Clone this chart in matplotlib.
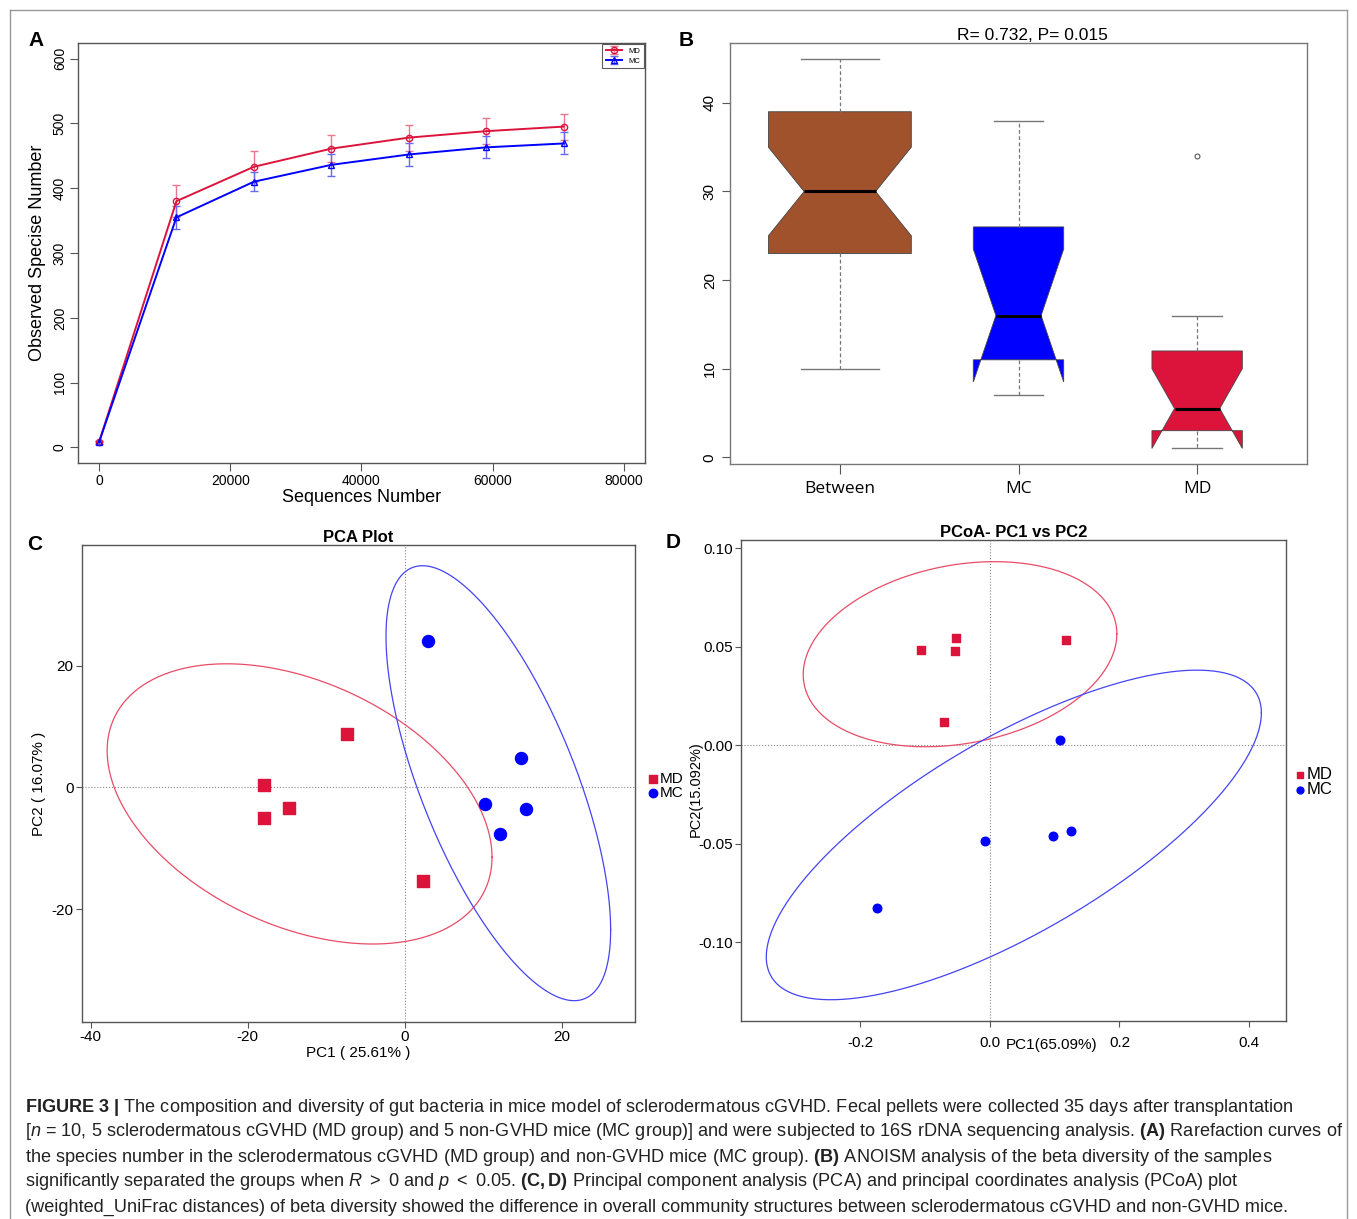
import numpy as np
import matplotlib
matplotlib.use('Agg')
import matplotlib.pyplot as plt
import matplotlib.font_manager as fm
from matplotlib.lines import Line2D

W, H = 1357, 1219


def pick(*names):
    for n in names:
        try:
            fm.findfont(fm.FontProperties(family=n), fallback_to_default=False)
            return n
        except ValueError:
            pass
    return 'DejaVu Sans'


SANS = pick('Liberation Sans', 'Arial', 'DejaVu Sans')
NARROW = pick('Liberation Sans Narrow', 'Arial Narrow', 'Liberation Sans')
CAT = pick('Open Sans', 'Liberation Sans')

plt.rcParams['font.family'] = [SANS, 'DejaVu Sans']
plt.rcParams['axes.unicode_minus'] = False
plt.rcParams['mathtext.fontset'] = 'custom'
plt.rcParams['mathtext.rm'] = NARROW
plt.rcParams['mathtext.it'] = NARROW + ':italic'
plt.rcParams['mathtext.bf'] = NARROW + ':bold'

# ---- A: rarefaction curves
seq_num = [0, 11800, 23600, 35400, 47200, 59000, 70800]
md_obs = [8, 380, 433, 461, 478, 488, 495]
md_err = [2, 25, 24, 21, 20, 20, 20]
mc_obs = [8, 355, 410, 436, 452, 463, 469]
mc_err = [2, 18, 15, 17, 17, 17, 17]

# ---- B: ANOSIM rank distances
groups = ['Between', 'MC', 'MD']
group_n = [25, 10, 10]
q1 = [23, 11, 3]
med = [30, 16, 5.5]
q3 = [39, 26, 12]
whislo = [10, 7, 1]
whishi = [45, 38, 16]
ci_lo = [25, 8.5, 1]
ci_hi = [35, 23.5, 10]
outliers = [[], [], [34]]
box_colors = ['#A0522D', '#0000FF', '#DC143C']

# ---- C: PCA
pca_md_x = [-7.4, -17.9, -14.8, -17.9, 2.3]
pca_md_y = [8.7, 0.4, -3.3, -5.0, -15.3]
pca_mc_x = [3.0, 14.8, 10.2, 15.4, 12.1]
pca_mc_y = [24.1, 4.8, -2.7, -3.6, -7.6]
# ellipse: centre x, centre y, half width, half height, correlation
pca_ell_md = [-13.4, -2.7, 24.5, 23.0, -0.38]
pca_ell_mc = [11.9, 0.7, 14.3, 35.7, -0.675]

# ---- D: PCoA
pcoa_md_x = [-0.106, -0.052, -0.054, 0.117, -0.071]
pcoa_md_y = [0.0483, 0.0547, 0.0478, 0.0533, 0.0121]
pcoa_mc_x = [0.108, -0.0075, 0.0976, 0.126, -0.174]
pcoa_mc_y = [0.0029, -0.0485, -0.0458, -0.0433, -0.0827]
pcoa_ell_md = [-0.046, 0.0463, 0.242, 0.047, 0.22]
pcoa_ell_mc = [0.037, -0.0455, 0.382, 0.0837, 0.74]

RED = '#DC143C'
BLUE = '#0000FF'


def px_box(l, t, r, b):
    return [l / W, 1 - b / H, (r - l) / W, (b - t) / H]


def fxy(x, y):
    return x / W, 1 - y / H


def ellipse_xy(p, n=300):
    cx, cy, hx, hy, rho = p
    t = np.linspace(0, 2 * np.pi, n)
    x = cx + hx * np.cos(t)
    y = cy + hy * (rho * np.cos(t) + np.sqrt(1 - rho ** 2) * np.sin(t))
    return x, y


def grey_spines(ax, c='#555555'):
    for s in ax.spines.values():
        s.set_color(c)
        s.set_linewidth(1.0)


fig = plt.figure(figsize=(W / 100, H / 100), dpi=100)

# ================= A =================
axA = fig.add_axes(px_box(78, 43, 645, 463))
eb_kw = dict(capsize=3, elinewidth=1.0, capthick=1.0, lw=1.4, markersize=4.5,
             markerfacecolor='none', markeredgewidth=1.0)
axA.errorbar(seq_num, md_obs, yerr=md_err, color=RED, marker='o',
             ecolor='#E8788E', label='MD', **eb_kw)
axA.errorbar(seq_num, mc_obs, yerr=mc_err, color=BLUE, marker='^',
             ecolor='#6A6AF0', label='MC', **eb_kw)
axA.set_xlim(-3200, 83200)
axA.set_ylim(-24, 624)
axA.set_xticks([0, 20000, 40000, 60000, 80000])
axA.set_yticks(range(0, 601, 100))
axA.tick_params(axis='both', labelsize=10, length=6, color='#555555', pad=2)
axA.tick_params(axis='y', labelrotation=90)
for lab in axA.get_yticklabels():
    lab.set_va('center')
axA.set_xlabel('Sequences Number', fontsize=13, labelpad=1)
axA.set_ylabel('Observed Specise Number', fontsize=13, labelpad=5)
grey_spines(axA)
legA = axA.legend(loc='upper right', fontsize=5.5, frameon=True, fancybox=False,
                  borderaxespad=0.1, handlelength=2.2, borderpad=0.5,
                  labelspacing=0.3)
legA.get_frame().set_edgecolor('#333333')
legA.get_frame().set_linewidth(0.8)

# ================= B =================
axB = fig.add_axes(px_box(730, 43, 1307, 464))
stats = []
for i, g in enumerate(groups):
    stats.append(dict(label=g, med=med[i], q1=q1[i], q3=q3[i],
                      whislo=whislo[i], whishi=whishi[i],
                      cilo=ci_lo[i], cihi=ci_hi[i], fliers=outliers[i]))
widths = [0.8 * np.sqrt(n / max(group_n)) for n in group_n]
bp = axB.bxp(stats, positions=[1, 2, 3], widths=widths,
             capwidths=[w * 0.55 for w in widths], shownotches=True,
             patch_artist=True,
             boxprops=dict(edgecolor='#444444', linewidth=0.6),
             whiskerprops=dict(color='#777777', linestyle=(0, (3, 2)), linewidth=0.9),
             capprops=dict(color='#777777', linewidth=1.0),
             medianprops=dict(color='black', linewidth=2.2),
             flierprops=dict(marker='o', markersize=3.5, markerfacecolor='none',
                             markeredgecolor='#555555', markeredgewidth=0.8))
for patch, c in zip(bp['boxes'], box_colors):
    patch.set_facecolor(c)
axB.set_xlim(0.385, 3.615)
axB.set_ylim(-0.76, 46.76)
axB.set_yticks([0, 10, 20, 30, 40])
axB.set_xticks([1, 2, 3])
axB.set_xticklabels(groups, fontsize=12.5, family=CAT)
axB.tick_params(axis='x', length=7, color='#555555', pad=5)
axB.tick_params(axis='y', labelsize=11, length=6, color='#555555', labelrotation=90)
for lab in axB.get_yticklabels():
    lab.set_va('center')
axB.set_title('R= 0.732, P= 0.015', fontsize=12.5, family=NARROW, pad=2, x=0.525)
grey_spines(axB, '#777777')

# ================= C =================
axC = fig.add_axes(px_box(82, 545, 635, 1022))
axC.axhline(0, color='#888888', lw=0.8, ls=':', zorder=0)
axC.axvline(0, color='#888888', lw=0.8, ls=':', zorder=0)
x, y = ellipse_xy(pca_ell_md)
axC.plot(x, y, color='#E84C66', lw=0.9)
x, y = ellipse_xy(pca_ell_mc)
axC.plot(x, y, color='#4444F4', lw=0.9)
axC.scatter(pca_md_x, pca_md_y, marker='s', s=65, color=RED, label='MD', zorder=3)
axC.scatter(pca_mc_x, pca_mc_y, marker='o', s=75, color=BLUE, label='MC', zorder=3)
axC.set_xlim(-41.1, 29.3)
axC.set_ylim(-38.5, 39.8)
axC.set_xticks([-40, -20, 0, 20])
axC.set_yticks([-20, 0, 20])
axC.tick_params(labelsize=11, length=4, color='#555555', pad=2)
for lab in axC.get_xticklabels() + axC.get_yticklabels():
    lab.set_family(NARROW)
axC.set_xlabel('PC1 ( 25.61% )', fontsize=11, family=NARROW, labelpad=1)
axC.set_ylabel('PC2 ( 16.07% )', fontsize=11, family=NARROW, labelpad=4)
axC.set_title('PCA Plot', fontsize=12, fontweight='bold', pad=1)
grey_spines(axC)
axC.legend(loc='center left', bbox_to_anchor=(1.017, 0.495), frameon=False,
           handlelength=0.7, handletextpad=0.1, labelspacing=0.0,
           borderaxespad=0.0, borderpad=0.2,
           prop=dict(family=NARROW, size=11), markerscale=0.7)

# ================= D =================
axD = fig.add_axes(px_box(741, 540, 1286, 1021))
axD.axhline(0, color='#888888', lw=0.8, ls=':', zorder=0)
axD.axvline(0, color='#888888', lw=0.8, ls=':', zorder=0)
x, y = ellipse_xy(pcoa_ell_md)
axD.plot(x, y, color='#E84C66', lw=0.9)
x, y = ellipse_xy(pcoa_ell_mc)
axD.plot(x, y, color='#4444F4', lw=0.9)
axD.scatter(pcoa_md_x, pcoa_md_y, marker='s', s=38, color=RED, label='MD', zorder=3)
axD.scatter(pcoa_mc_x, pcoa_mc_y, marker='o', s=38, color=BLUE, label='MC', zorder=3)
axD.set_xlim(-0.384, 0.457)
axD.set_ylim(-0.140, 0.1043)
axD.set_xticks([-0.2, 0.0, 0.2, 0.4])
axD.set_xticklabels(['-0.2', '0.0', '0.2', '0.4'])
axD.set_yticks([-0.10, -0.05, 0.0, 0.05, 0.10])
axD.set_yticklabels(['-0.10', '-0.05', '0.00', '0.05', '0.10'])
axD.tick_params(axis='x', labelsize=11, length=4, color='#555555', pad=7)
axD.tick_params(axis='y', labelsize=11, length=4, color='#555555', pad=2)
for lab in axD.get_xticklabels() + axD.get_yticklabels():
    lab.set_family(NARROW)
axD.set_title('PCoA- PC1 vs PC2', fontsize=12, fontweight='bold', pad=1)
grey_spines(axD)
axD.legend(loc='center left', bbox_to_anchor=(1.008, 0.497), frameon=False,
           handlelength=0.7, handletextpad=0.1, labelspacing=0.0,
           borderaxespad=0.0, borderpad=0.2,
           prop=dict(family=NARROW, size=12), markerscale=0.8)
fig.text(*fxy(1052, 1045), 'PC1(65.09%)', fontsize=11, family=NARROW,
         ha='center', va='center')
fig.text(*fxy(696, 789), 'PC2(15.092%)', fontsize=10.5, family=NARROW,
         ha='center', va='center', rotation=90)

# ---- panel letters
for letter, (lx, ly) in zip('ABCD', [(36, 40), (686, 40), (35, 544), (673, 543)]):
    fig.text(*fxy(lx, ly), letter, fontsize=15, fontweight='bold',
             ha='center', va='center')

# ---- outer frame
for (x0, y0, x1, y1) in [(10, 10, 1347, 10), (10, 10, 10, 1219), (1347, 10, 1347, 1219)]:
    fig.add_artist(Line2D([x0 / W, x1 / W], [1 - y0 / H, 1 - y1 / H],
                          color='#999999', lw=1.0))

# ---- caption
caption = [
    r"$\mathbf{FIGURE\ 3\ |}$ The composition and diversity of gut bacteria in mice model of sclerodermatous cGVHD. Fecal pellets were collected 35 days after transplantation",
    r"[$n$ = 10, 5 sclerodermatous cGVHD (MD group) and 5 non-GVHD mice (MC group)] and were subjected to 16S rDNA sequencing analysis. $\mathbf{(A)}$ Rarefaction curves of",
    r"the species number in the sclerodermatous cGVHD (MD group) and non-GVHD mice (MC group). $\mathbf{(B)}$ ANOISM analysis of the beta diversity of the samples",
    r"significantly separated the groups when $R$ $>$ 0 and $p$ $<$ 0.05. $\mathbf{(C,D)}$ Principal component analysis (PCA) and principal coordinates analysis (PCoA) plot",
    "(weighted_UniFrac distances) of beta diversity showed the difference in overall community structures between sclerodermatous cGVHD and non-GVHD mice.",
]
for i, line in enumerate(caption):
    fig.text(*fxy(25, 1107 + 25 * i), line, fontsize=13.1, family=NARROW,
             ha='left', va='center', color='#222222')

fig.savefig('out.png', dpi=100)
